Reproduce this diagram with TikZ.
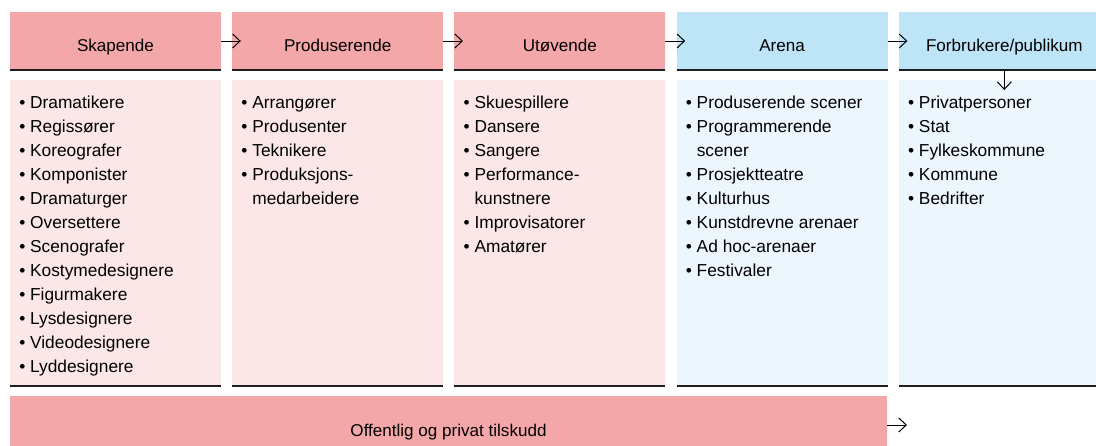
\documentclass[tikz,border=0pt]{standalone}
\usepackage{fontspec}
\setmainfont{Liberation Sans}
\usetikzlibrary{arrows.meta,calc}
\definecolor{pinkhead}{HTML}{F4A7A9}
\definecolor{pinkbody}{HTML}{FCE7E8}
\definecolor{bluehead}{HTML}{BEE4F8}
\definecolor{bluebody}{HTML}{EBF6FD}
\definecolor{rulecol}{HTML}{1E1E1E}
\begin{document}
\begin{tikzpicture}[x=0.75pt,y=-0.75pt,
  box/.style={rectangle, inner sep=0pt, outer sep=0pt, anchor=north west, minimum width=158.25pt},
  hdr/.style={box, minimum height=43.5pt},
  bodybox/.style={box, minimum height=229.5pt},
  htext/.style={anchor=base, inner sep=0pt, font=\fontsize{12.8pt}{18pt}\selectfont},
  listtext/.style={anchor=north west, inner sep=0pt, align=left, font=\fontsize{13pt}{18pt}\selectfont},
  rule/.style={draw=rulecol, line width=1.1pt},
  arr/.style={draw=black, line width=0.75pt, -{Straight Barb[length=5.6pt,width=10.5pt]}}]
\useasboundingbox (0,0) rectangle (1096,446);
\clip (0,0) rectangle (1096,446);

% header boxes
\node[hdr, fill=pinkhead] (h1) at (10,12) {};
\node[hdr, fill=pinkhead] (h2) at (232.2,12) {};
\node[hdr, fill=pinkhead] (h3) at (454.4,12) {};
\node[hdr, fill=bluehead] (h4) at (676.6,12) {};
\node[hdr, fill=bluehead] (h5) at (898.8,12) {};

% body boxes
\node[bodybox, fill=pinkbody] (c1) at (10,80) {};
\node[bodybox, fill=pinkbody] (c2) at (232.2,80) {};
\node[bodybox, fill=pinkbody] (c3) at (454.4,80) {};
\node[bodybox, fill=bluebody] (c4) at (676.6,80) {};
\node[bodybox, fill=bluebody] (c5) at (898.8,80) {};

% rules
\foreach \n in {h1,h2,h3,h4,h5,c1,c2,c3,c4,c5}
  \draw[rule] (\n.south west) -- (\n.south east);

% header texts
\node[htext] (t1) at ($(h1.north)+(0,39.7)$) {Skapende};
\node[htext] (t2) at ($(h2.north)+(0,39.7)$) {Produserende};
\node[htext] (t3) at ($(h3.north)+(0,39.7)$) {Utøvende};
\node[htext] (t4) at ($(h4.north)+(0,39.7)$) {Arena};
\node[htext] (t5) at ($(h5.north)+(0,39.7)$) {Forbrukere/publikum};

% lists
\node[listtext] (l1) at ($(c1.north west)+(9,14.4)$) {\rule{0pt}{10pt}• Dramatikere\\ • Regissører\\ • Koreografer\\ • Komponister\\ • Dramaturger\\ • Oversettere\\ • Scenografer\\ • Kostymedesignere\\ • Figurmakere\\ • Lysdesignere\\ • Videodesignere\\ • Lyddesignere};
\node[listtext] (l2) at ($(c2.north west)+(9,14.4)$) {\rule{0pt}{10pt}• Arrangører\\ • Produsenter\\ • Teknikere\\ • Produksjons-\\ \phantom{• }medarbeidere};
\node[listtext] (l3) at ($(c3.north west)+(9,14.4)$) {\rule{0pt}{10pt}• Skuespillere\\ • Dansere\\ • Sangere\\ • Performance-\\ \phantom{• }kunstnere\\ • Improvisatorer\\ • Amatører};
\node[listtext] (l4) at ($(c4.north west)+(9,14.4)$) {\rule{0pt}{10pt}• Produserende scener\\ • Programmerende\\ \phantom{• }scener\\ • Prosjektteatre\\ • Kulturhus\\ • Kunstdrevne arenaer\\ • Ad hoc-arenaer\\ • Festivaler};
\node[listtext] (l5) at ($(c5.north west)+(9,14.4)$) {\rule{0pt}{10pt}• Privatpersoner\\ • Stat\\ • Fylkeskommune\\ • Kommune\\ • Bedrifter};

% bottom banner
\node[box, fill=pinkhead, minimum width=657.75pt, minimum height=43.5pt] (ban) at (10,396) {};
\node[htext] (bt) at ($(ban.north)+(0,40)$) {Offentlig og privat tilskudd};

% arrows
\draw[arr] (h1.east) -- ($(h2.west)+(8.6,0)$);
\draw[arr] (h2.east) -- ($(h3.west)+(8.6,0)$);
\draw[arr] (h3.east) -- ($(h4.west)+(8.6,0)$);
\draw[arr] (h4.east) -- ($(h5.west)+(8.6,0)$);
\draw[arr] (h5.south) -- ($(c5.north)+(0,10)$);
\coordinate (banend) at ($(ban.east)+(20,0)$);
\draw[arr] (ban.east) -- (banend);
\end{tikzpicture}
\end{document}
